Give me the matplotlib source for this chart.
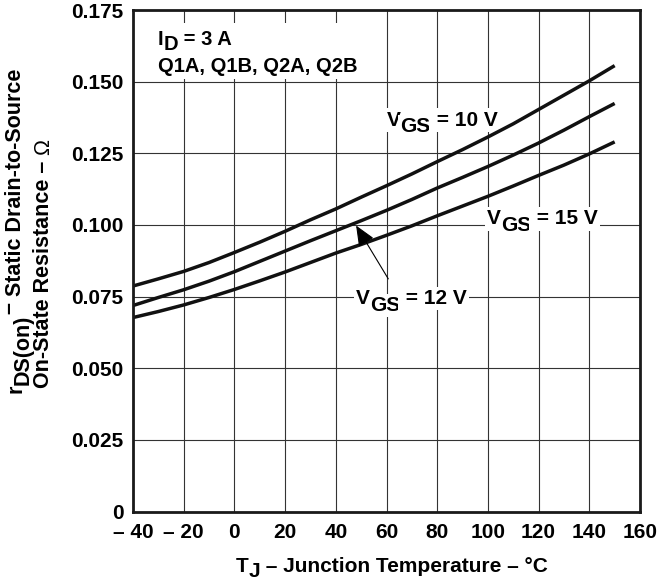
import matplotlib
matplotlib.use('Agg')
import matplotlib.pyplot as plt
from matplotlib.patches import Rectangle

plt.rcParams['font.family'] = ['Liberation Sans', 'DejaVu Sans']
plt.rcParams['font.weight'] = 'bold'

# junction temperature (deg C) and rDS(on) (ohm)
temp = [-40, -30, -20, -10, 0, 10, 20, 30, 40, 50, 60, 70, 80, 90, 100, 110, 120, 130, 140, 150]
r_vgs10 = [0.0787, 0.0812, 0.0838, 0.0869, 0.0904, 0.0940, 0.0978, 0.1018, 0.1056, 0.1097,
           0.1137, 0.1178, 0.1221, 0.1263, 0.1307, 0.1353, 0.1403, 0.1453, 0.1503, 0.1556]
r_vgs12 = [0.0719, 0.0747, 0.0774, 0.0804, 0.0837, 0.0873, 0.0909, 0.0945, 0.0980, 0.1015,
           0.1051, 0.1089, 0.1129, 0.1166, 0.1204, 0.1244, 0.1286, 0.1331, 0.1378, 0.1424]
r_vgs15 = [0.0677, 0.0698, 0.0721, 0.0747, 0.0775, 0.0805, 0.0836, 0.0869, 0.0902, 0.0932,
           0.0964, 0.0997, 0.1032, 0.1066, 0.1100, 0.1136, 0.1173, 0.1209, 0.1248, 0.1290]

xticks = [-40, -20, 0, 20, 40, 60, 80, 100, 120, 140, 160]
xtick_labels = ['\u2013 40', '\u2013 20', '0', '20', '40', '60', '80', '100', '120', '140', '160']
yticks = [0, 0.025, 0.05, 0.075, 0.1, 0.125, 0.15, 0.175]
ytick_labels = ['0', '0.025', '0.050', '0.075', '0.100', '0.125', '0.150', '0.175']

FS = 15
WHITE = dict(facecolor='white', edgecolor='none', pad=1.5)


def chain(ax, pieces, xy, coords, rotation=0, size=FS, box=None, zorder=1.6):
    # pieces: (text, baseline shift in points, weight); subscripts are full size, just dropped
    prev, prev_shift = None, 0
    for txt, shift, weight in pieces:
        kw = dict(fontsize=size, fontweight=weight, rotation=rotation, ha='left', va='bottom',
                  zorder=zorder, annotation_clip=False, textcoords='offset points')
        if box:
            kw['bbox'] = box
        d = shift - prev_shift
        off = (0, d) if rotation == 0 else (-d, 0)
        if prev is None:
            prev = ax.annotate(txt, xy=xy, xycoords=coords, xytext=off, **kw)
        else:
            anchor = (1, 0) if rotation == 0 else (0, 1)
            prev = ax.annotate(txt, xy=anchor, xycoords=prev, xytext=off, **kw)
        prev_shift = shift
    return prev


fig, ax = plt.subplots(figsize=(6.62, 5.83), dpi=100)
fig.subplots_adjust(left=0.2009, right=0.9668, bottom=0.1225, top=0.9828)

for r in (r_vgs10, r_vgs12, r_vgs15):
    ax.plot(temp, r, color='#111111', lw=2.5, solid_joinstyle='round', solid_capstyle='butt', zorder=2)

ax.set_xlim(-40, 160)
ax.set_ylim(0, 0.175)
ax.set_xticks(xticks)
ax.set_xticklabels(xtick_labels)
ax.set_yticks(yticks)
ax.set_yticklabels(ytick_labels)
ax.tick_params(length=0, labelsize=FS)
ax.tick_params(axis='x', pad=8)
ax.tick_params(axis='y', pad=7)
ax.set_axisbelow(True)
ax.grid(True, color='#333333', lw=0.8)
for s in ax.spines.values():
    s.set_linewidth(2.0)
    s.set_color('#1a1a1a')

# white block behind the test condition text
ax.add_patch(Rectangle((-40, 0.1508), 96, 0.0195, facecolor='white', edgecolor='none', zorder=1.2))
chain(ax, [('I', 0, 'bold'), ('D', -3.5, 'bold'), (' = 3 A', 0, 'bold')], (-30.1, 0.1613), 'data', size=14.5)
ax.text(-30.1, 0.1535, 'Q1A, Q1B, Q2A, Q2B', fontsize=14.5, fontweight='bold', ha='left',
        va='baseline', zorder=1.6)

chain(ax, [('V', 0, 'bold'), ('GS', -5, 'bold'), (' = 10 V', 0, 'bold')], (60, 0.1333), 'data', box=WHITE)
chain(ax, [('V', 0, 'bold'), ('GS', -5, 'bold'), (' = 15 V', 0, 'bold')], (99.6, 0.0988), 'data', box=WHITE)
chain(ax, [('V', 0, 'bold'), ('GS', -5, 'bold'), (' = 12 V', 0, 'bold')], (48, 0.0710), 'data', box=WHITE)

ax.annotate('', xy=(48, 0.0998), xytext=(60.7, 0.0812),
            arrowprops=dict(arrowstyle='-|>,head_length=0.7,head_width=0.3', color='black',
                            lw=0.8, mutation_scale=18, shrinkA=0, shrinkB=0), zorder=2)

# axis titles
chain(ax, [('T', 0, 'bold'), ('J', -3.5, 'bold'), (' \u2013 Junction Temperature \u2013 \u00b0C', 0, 'bold')],
      (0.356, 0.012), 'figure fraction', size=15)
chain(ax, [('r', 0, 'bold'), ('DS(on)', -5, 'bold'), ('\u2013', 4.5, 'bold'),
           (' Static Drain-to-Source', 0, 'bold')],
      (0.008, 0.326), 'figure fraction', rotation=90, size=15.5)
chain(ax, [('On-State Resistance \u2013 ', 0, 'bold'), ('\u03a9', 0, 'normal')],
      (0.0505, 0.3345), 'figure fraction', rotation=90, size=15.5)

fig.savefig('out.png', dpi=100)
